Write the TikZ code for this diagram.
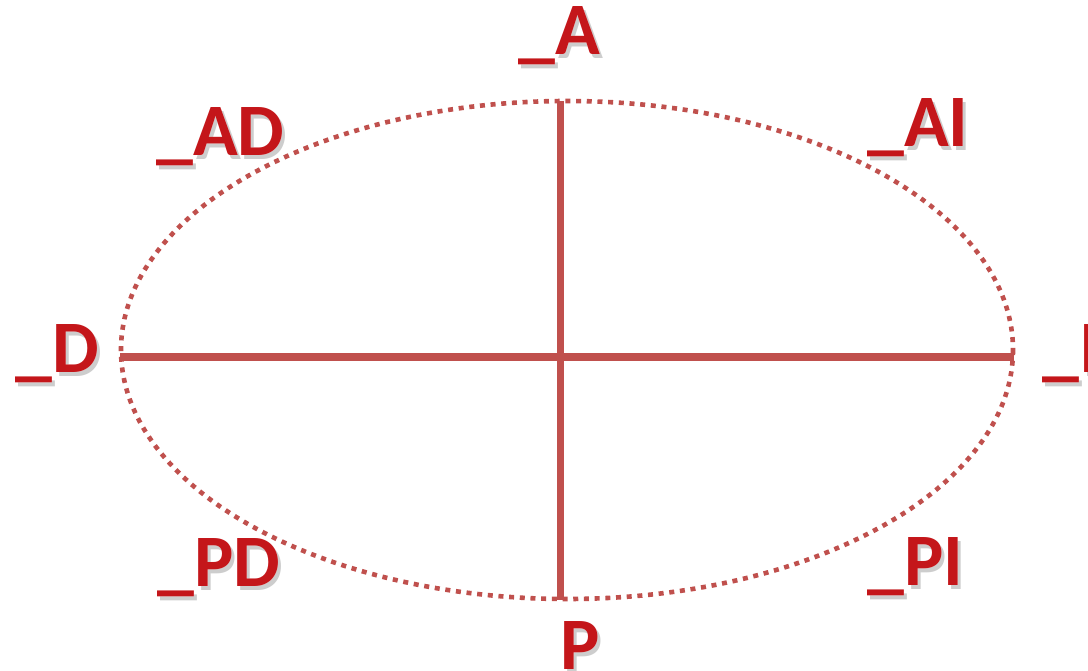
\documentclass[tikz,border=0pt]{standalone}
\usepackage{fontspec}
\setmainfont{Carlito}
\usepackage{pdfrender}
\definecolor{axisred}{RGB}{192,80,77}
\definecolor{lblred}{RGB}{196,22,26}
\definecolor{lbledge}{RGB}{140,8,12}
\definecolor{shadowgray}{RGB}{205,205,205}
\tikzset{
  axisline/.style={draw=axisred,line width=7pt},
  dotellipse/.style={draw=axisred,line width=4.6pt,dash pattern=on 5pt off 5.7pt},
  lblfont/.style={anchor=base west,inner sep=0pt,font=\fontsize{74}{80}\selectfont\bfseries},
  lbl/.style={lblfont,text=lblred},
  lblhalo/.style={lblfont,text=white},
  lblshadow/.style={lblfont,text=shadowgray}
}
\newcommand{\mylbl}[3]{%
  \node[lblshadow] (#1s) at ([shift={(3,4)}]#2) {\textpdfrender{TextRenderingMode=FillStroke,LineWidth=7pt,StrokeColor=shadowgray,LineJoin=Round}{#3}};
  \node[lblhalo] (#1h) at (#2) {\textpdfrender{TextRenderingMode=FillStroke,LineWidth=6.5pt,StrokeColor=white,LineJoin=Round}{#3}};
  \node[lbl] (#1) at (#2) {\textpdfrender{TextRenderingMode=FillStroke,LineWidth=1.4pt,StrokeColor=lbledge,LineJoin=Round}{#3}};
}
\begin{document}
\begin{tikzpicture}[x=1pt,y=-1pt]
\useasboundingbox (0,0) rectangle (1088,671);
\fill[white] (0,0) rectangle (1088,671);
% ellipse
\draw[dotellipse] (567,350) ellipse [x radius=446,y radius=249];
% axes
\coordinate (W) at (120,357);
\coordinate (E) at (1014,357);
\coordinate (N) at (560,101);
\coordinate (S) at (560,600);
\draw[axisline] (W) -- (E);
\draw[axisline] (N) -- (S);
% labels
\mylbl{A}{518,55}{\_A}
\mylbl{AD}{156,156}{\_AD}
\mylbl{AI}{867,147}{\_AI}
\mylbl{D}{15,372}{\_D}
\mylbl{I}{1042,373}{\_I}
\mylbl{PD}{157,586}{\_PD}
\mylbl{PI}{867,585}{\_PI}
\mylbl{P}{523,669}{\_P}
\end{tikzpicture}
\end{document}
